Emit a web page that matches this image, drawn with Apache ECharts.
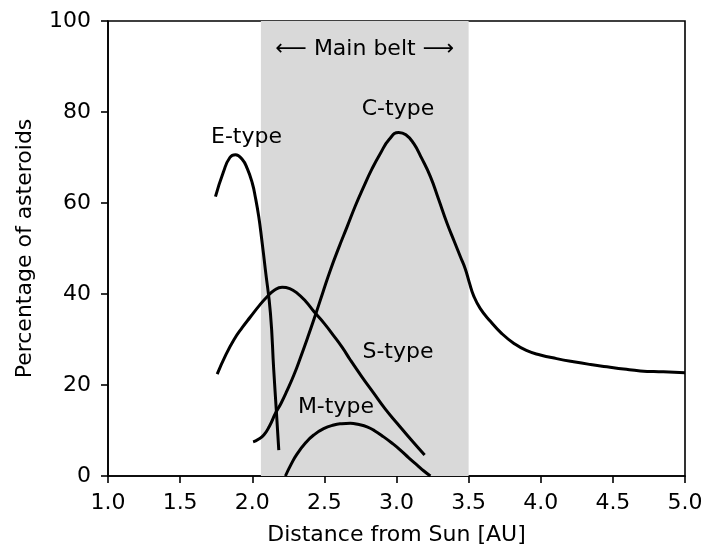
<!DOCTYPE html>
<html>
<head>
<meta charset="utf-8">
<script src="https://cdn.jsdelivr.net/npm/echarts@6/dist/echarts.min.js"></script>
<style>
    html, body { margin: 0; padding: 0; background: #fff; }
    #chart { width: 704px; height: 548px; }
</style>
</head>
<body>
<div id="chart"></div>
<script>
// curves: [distance AU, percent]
const eType = [[1.745, 61.4], [1.80, 66.8], [1.845, 70.0], [1.884, 70.6], [1.93, 69.6], [1.965, 67.6],
    [2.0, 64.4], [2.022, 61.2], [2.045, 57.0], [2.065, 52.2], [2.091, 45.3], [2.126, 35.8],
    [2.149, 23.3], [2.168, 13.8], [2.184, 5.7]]
const sType = [[1.757, 22.4], [1.815, 26.5], [1.872, 29.9], [1.93, 32.6], [1.988, 35.0], [2.05, 37.5],
    [2.103, 39.4], [2.155, 40.9], [2.207, 41.5], [2.26, 41.2], [2.311, 40.2], [2.37, 38.4],
    [2.426, 36.2], [2.5, 33.5], [2.565, 30.8], [2.625, 28.2], [2.68, 25.5], [2.76, 21.8],
    [2.842, 18.2], [2.92, 14.8], [3.004, 11.6], [3.1, 8.0], [3.195, 4.6]]
const cType = [[2.006, 7.5], [2.04, 8.0], [2.08, 9.0], [2.12, 11.0], [2.161, 13.8], [2.2, 16.0],
    [2.242, 18.8], [2.29, 22.3], [2.334, 26.0], [2.386, 30.6], [2.438, 35.4], [2.49, 40.4],
    [2.542, 45.3], [2.6, 50.2], [2.658, 54.8], [2.715, 59.4], [2.773, 63.6], [2.83, 67.5],
    [2.888, 70.9], [2.95, 74.0], [3.015, 75.5], [3.065, 75.0], [3.119, 73.1], [3.175, 69.8],
    [3.235, 65.8], [3.29, 61.0], [3.351, 55.5], [3.4, 51.6], [3.443, 48.2], [3.477, 45.5],
    [3.505, 42.5], [3.535, 39.6], [3.581, 36.8], [3.651, 34.0], [3.73, 31.3], [3.812, 29.2],
    [3.9, 27.6], [3.997, 26.6], [4.11, 25.8], [4.228, 25.1], [4.345, 24.5], [4.459, 24.0],
    [4.575, 23.5], [4.69, 23.1], [4.85, 22.9], [5.0, 22.7]]
const mType = [[2.23, 0.0], [2.27, 2.6], [2.31, 4.8], [2.37, 7.3], [2.426, 9.0],
    [2.495, 10.4], [2.565, 11.2], [2.62, 11.5], [2.68, 11.6], [2.74, 11.3], [2.796, 10.8],
    [2.85, 9.9], [2.911, 8.6], [2.97, 7.2], [3.027, 5.7], [3.085, 4.0], [3.143, 2.4],
    [3.19, 1.1], [3.235, 0.0]]
const mainBelt = [2.06, 3.5]
// text labels: [x, y, text]
const labels = [[1.96, 74.5, 'E-type'], [3.01, 80.7, 'C-type'], [3.01, 27.3, 'S-type'],
    [2.58, 15.0, 'M-type'], [2.78, 93.8, '⟵ Main belt ⟶']]
const xTicks = [1, 5, 0.5]
const yTicks = [0, 100, 20]

const font = 'DejaVu Sans'
const fontSize = 22
const curve = (data) => ({
    type: 'line',
    data: data,
    smooth: 0.5,
    showSymbol: false,
    symbol: 'none',
    lineStyle: { color: '#000', width: 3 },
    z: 3,
    silent: true
})

const chart = echarts.init(document.getElementById('chart'))
chart.setOption({
    animation: false,
    backgroundColor: '#fff',
    grid: {
        left: 108, right: 19, top: 21, bottom: 72,
        outerBoundsMode: 'none',
        containLabel: false,
        show: true, borderColor: '#000', borderWidth: 1.6, backgroundColor: 'transparent'
    },
    xAxis: {
        type: 'value',
        min: xTicks[0], max: xTicks[1], interval: xTicks[2],
        name: 'Distance from Sun [AU]',
        nameLocation: 'middle',
        nameGap: 48,
        nameTextStyle: { fontFamily: font, fontSize: fontSize, color: '#000' },
        axisLine: { lineStyle: { color: '#000', width: 1.6 } },
        axisTick: { show: true, length: 7, lineStyle: { color: '#000', width: 1.6 } },
        axisLabel: { fontFamily: font, fontSize: fontSize, color: '#000', margin: 16,
            formatter: (v) => v.toFixed(1) },
        splitLine: { show: false }
    },
    yAxis: {
        type: 'value',
        min: yTicks[0], max: yTicks[1], interval: yTicks[2],
        name: 'Percentage of asteroids',
        nameLocation: 'middle',
        nameGap: 72,
        nameTextStyle: { fontFamily: font, fontSize: fontSize, color: '#000' },
        axisLine: { show: true, lineStyle: { color: '#000', width: 1.6 } },
        axisTick: { show: true, length: 7, lineStyle: { color: '#000', width: 1.6 } },
        axisLabel: { fontFamily: font, fontSize: fontSize, color: '#000', margin: 17 },
        splitLine: { show: false }
    },
    series: [
        {
            type: 'line',
            data: [],
            z: 1,
            markArea: {
                silent: true,
                itemStyle: { color: '#d9d9d9' },
                data: [[{ xAxis: mainBelt[0] }, { xAxis: mainBelt[1] }]]
            }
        },
        curve(eType),
        curve(sType),
        curve(cType),
        curve(mType),
        {
            type: 'scatter',
            symbolSize: 0,
            z: 4,
            silent: true,
            itemStyle: { opacity: 1 },
            data: labels.map((l) => ({ value: [l[0], l[1]], name: l[2] })),
            label: {
                show: true,
                position: 'inside',
                formatter: (p) => p.name,
                fontFamily: font,
                fontSize: fontSize,
                color: '#000',
                textBorderWidth: 0
            }
        }
    ]
})
</script>
</body>
</html>
